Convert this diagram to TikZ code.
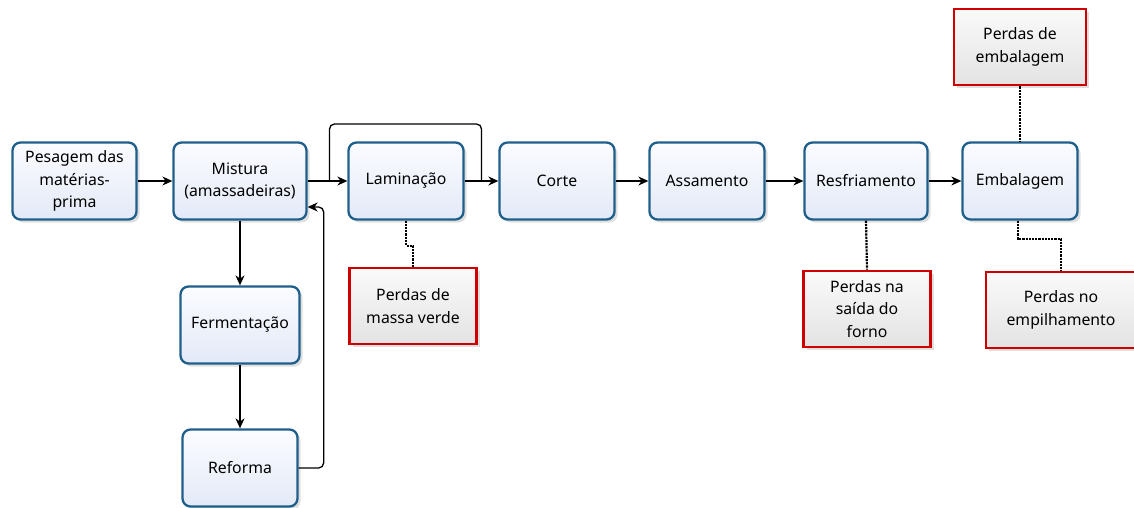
\documentclass[tikz,border=0pt]{standalone}
\usepackage{fontspec}
\setmainfont{Noto Sans}
\usetikzlibrary{arrows.meta,calc,shadows}
\definecolor{procblue}{HTML}{1F5F8B}
\definecolor{procfillA}{HTML}{FBFCFF}
\definecolor{procfillB}{HTML}{E3E9F7}
\definecolor{lossred}{HTML}{D00000}
\begin{document}
\begin{tikzpicture}[x=1pt,y=-1pt,
  every node/.style={font=\fontsize{15.8}{22.5}\selectfont, align=center, inner sep=0pt},
  proc/.style={draw=procblue, line width=2.3pt, rounded corners=8pt,
    top color=procfillA, bottom color=procfillB, minimum width=#1, minimum height=77pt,
    drop shadow={shadow xshift=3pt, shadow yshift=-3pt, opacity=0.25}},
  proc/.default=115pt,
  loss/.style={draw=lossred, line width=2.8pt, top color=gray!4, bottom color=gray!22,
    minimum width=127pt, minimum height=76pt,
    drop shadow={shadow xshift=3pt, shadow yshift=-3pt, opacity=0.25}},
  flow/.style={-{Stealth[length=10pt,width=9pt]}, line width=1.3pt, black},
  lossline/.style={line width=2.2pt, densely dotted, black}]
\useasboundingbox (0,0) rectangle (1134,508);

\node[proc=124pt] (pes) at (74.5,181) {Pesagem das\\matérias-\\prima};
\node[proc=133pt] (mis) at (240,181) {Mistura\\(amassadeiras)};
\node[proc] (lam) at (406,181) {Laminação};
\node[proc] (cor) at (557,181) {Corte};
\node[proc] (ass) at (707,181) {Assamento};
\node[proc=123pt] (res) at (866,181) {Resfriamento};
\node[proc] (emb) at (1020,181) {Embalagem};
\node[proc=119pt] (fer) at (240,325) {Fermentação};
\node[proc] (ref) at (240,468) {Reforma};

\node[loss] (pmv) at (413,306) {Perdas de\\massa verde};
\node[loss] (psf) at (867,309) {Perdas na\\saída do\\forno};
\node[loss, minimum width=132pt] (pem) at (1020,47) {Perdas de\\embalagem};
\node[loss, minimum width=150pt] (pep) at (1061,310) {Perdas no\\empilhamento};

\draw[flow] (pes) -- (mis);
\draw[flow] (mis) -- (lam);
\draw[flow] (lam) -- (cor);
\draw[flow] (cor) -- (ass);
\draw[flow] (ass) -- (res);
\draw[flow] (res) -- (emb);
\draw[flow] (mis) -- (fer);
\draw[flow] (fer) -- (ref);

\coordinate (b1) at ($(mis.east)!0.55!(lam.west)$);
\coordinate (b2) at ($(lam.east)!0.5!(cor.west)$);
\draw[line width=1.3pt, rounded corners=5pt] (b1) -- ++(0,-57) -| (b2);

\draw[flow, rounded corners=5pt] (ref.east) -- ++(25,0) |- ($(mis.east)+(0,26)$);

\draw[lossline] (lam.south) -- ++(0,25) -| (pmv.north);
\draw[lossline] (res.south) -- (psf.north);
\draw[lossline] (pem.south) -- (emb.north);
\coordinate (e1) at ($(emb.south)+(-2,0)$);
\draw[lossline] (e1) -- ++(0,18) -| (pep.north);
\end{tikzpicture}
\end{document}
